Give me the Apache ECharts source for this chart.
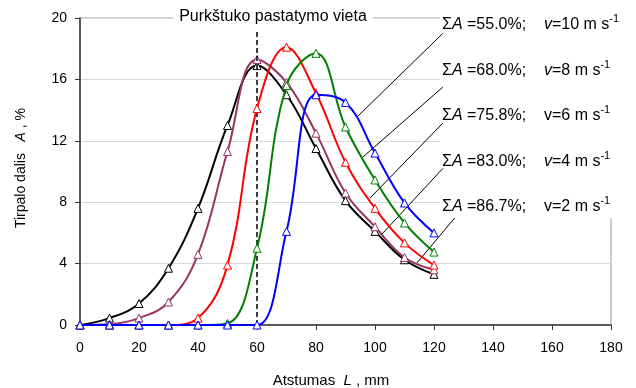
<!DOCTYPE html>
<html>
<head>
<meta charset="utf-8">
<script src="https://cdn.jsdelivr.net/npm/echarts@6/dist/echarts.min.js"></script>
<style>
  html, body { margin: 0; padding: 0; background: #fff; }
  #chart { width: 636px; height: 388px; }
</style>
</head>
<body>
<div id="chart"></div>
<script>
// distance from the nozzle, mm
const distances = [0, 10, 20, 30, 40, 50, 60, 70, 80, 90, 100, 110, 120];

// solution share A, % for each air speed
const shareV2 = [0, 0.45, 1.4, 3.7, 7.6, 13.0, 16.9, 15.0, 11.5, 8.1, 6.1, 4.25, 3.3];
const shareV4 = [0, 0.05, 0.45, 1.5, 4.6, 11.3, 17.3, 15.8, 12.5, 8.6, 6.4, 4.4, 3.6];
const shareV6 = [0, 0, 0, 0, 0.45, 3.9, 14.1, 18.1, 15.1, 10.6, 7.6, 5.35, 3.9];
const shareV8 = [0, 0, 0, 0, 0, 0.1, 5.0, 15.6, 17.7, 12.9, 9.45, 6.65, 4.75];
const shareV10 = [0, 0, 0, 0, 0, 0, 0, 6.1, 15.0, 14.5, 11.2, 7.95, 6.0];

const seriesNames = ['v=2', 'v=4', 'v=6', 'v=8', 'v=10'];
const seriesColors = ['#000000', '#993366', '#ff0000', '#008000', '#0000ff'];
const seriesValues = [shareV2, shareV4, shareV6, shareV8, shareV10];

// labels (top to bottom): total share and speed
const totalShares = ['55.0', '68.0', '75.8', '83.0', '86.7'];
const speeds = ['10', '8', '6', '4', '2'];
const italicSpeed = [true, true, false, true, false];

// leader lines from each label to its curve, in data units
const leaderLines = [
  [[123, 19.0], [93.9, 13.55]],
  [[123, 15.5], [95.9, 10.94]],
  [[123, 13.15], [98.3, 8.27]],
  [[123, 10.2], [102.4, 5.93]],
  [[127, 6.97], [114.2, 4.04]],
];

const nozzlePosition = 60;
const nozzleLineTop = 19.2;

const xTicks = { min: 0, max: 180, interval: 20 };
const yTicks = { min: 0, max: 20, interval: 4 };

const FONT = '"Liberation Sans", Arial, sans-serif';
const richStyles = {
  i: { fontStyle: 'italic', fontSize: 16, fontFamily: FONT, fill: '#000' },
  sup: { fontSize: 11, fontFamily: FONT, fill: '#000', verticalAlign: 'top', padding: [0, 0, 12, 0] },
};

const chart = echarts.init(document.getElementById('chart'));

const dataSeries = seriesValues.map((values, idx) => ({
  name: seriesNames[idx],
  type: 'line',
  smooth: 0.4,
  data: distances.map((d, i) => [d, values[i]]),
  symbol: 'triangle',
  symbolSize: 8,
  showAllSymbol: true,
  lineStyle: { color: seriesColors[idx], width: 2 },
  itemStyle: { color: '#fff', borderColor: seriesColors[idx], borderWidth: 1 },
  z: 3 + idx,
}));

const annotationSeries = {
  type: 'line',
  data: [],
  silent: true,
  z: 10,
  markLine: {
    symbol: 'none',
    silent: true,
    animation: false,
    label: { show: false },
    data: [
      [
        { coord: [nozzlePosition, 0], lineStyle: { color: '#000', width: 1.5, type: [5, 3] } },
        { coord: [nozzlePosition, nozzleLineTop] },
      ],
      ...leaderLines.map(([from, to]) => [
        { coord: from, lineStyle: { color: '#000', width: 1, type: 'solid' } },
        { coord: to },
      ]),
    ],
  },
};

const labelTexts = totalShares.map((share, idx) => ({
  type: 'text',
  z: 20,
  x: 442,
  y: 25 + idx * 45.5,
  style: {
    text: `Σ{i|A} =${share}%;    ${italicSpeed[idx] ? '{i|v}' : 'v'}=${speeds[idx]} m s{sup|-1}`,
    font: `16px ${FONT}`,
    fill: '#000',
    textVerticalAlign: 'middle',
    rich: richStyles,
  },
}));

chart.setOption({
  animation: false,
  backgroundColor: '#fff',
  grid: {
    left: 80,
    right: 25,
    top: 18,
    bottom: 63,
    show: true,
    borderColor: '#9a9a9a',
    borderWidth: 1,
  },
  xAxis: {
    type: 'value',
    ...xTicks,
    axisLine: { lineStyle: { color: '#333', width: 1.5 } },
    axisTick: { show: true, length: 5, lineStyle: { color: '#333' } },
    axisLabel: { color: '#000', fontSize: 14, fontFamily: FONT, margin: 16 },
    splitLine: { show: false },
  },
  yAxis: {
    type: 'value',
    ...yTicks,
    axisLine: { show: true, lineStyle: { color: '#333', width: 1.5 } },
    axisTick: { show: true, length: 5, lineStyle: { color: '#333' } },
    axisLabel: { color: '#000', fontSize: 14, fontFamily: FONT, margin: 13 },
    splitLine: { lineStyle: { color: '#d9d9d9', width: 1 } },
  },
  graphic: [
    // white box behind the speed labels
    { type: 'rect', z: 1, shape: { x: 440, y: 0, width: 196, height: 218 }, style: { fill: '#fff' } },
    {
      type: 'text',
      z: 20,
      x: 273,
      y: 17,
      style: {
        text: 'Purkštuko pastatymo vieta',
        font: `16px ${FONT}`,
        fill: '#000',
        textAlign: 'center',
        textVerticalAlign: 'middle',
        backgroundColor: '#fff',
        padding: [2, 6],
      },
    },
    {
      type: 'text',
      z: 20,
      x: 331,
      y: 381,
      style: {
        text: 'Atstumas  {i|L} , mm',
        font: `15px ${FONT}`,
        fill: '#000',
        textAlign: 'center',
        textVerticalAlign: 'middle',
        rich: { i: { fontStyle: 'italic', fontSize: 15, fontFamily: FONT, fill: '#000' } },
      },
    },
    {
      type: 'text',
      z: 20,
      x: 21,
      y: 168,
      rotation: Math.PI / 2,
      style: {
        text: 'Tirpalo dalis   {i|A} , %',
        font: `14px ${FONT}`,
        fill: '#000',
        textAlign: 'center',
        textVerticalAlign: 'middle',
        rich: { i: { fontStyle: 'italic', fontSize: 14, fontFamily: FONT, fill: '#000' } },
      },
    },
    ...labelTexts,
  ],
  series: [...dataSeries, annotationSeries],
});
</script>
</body>
</html>
